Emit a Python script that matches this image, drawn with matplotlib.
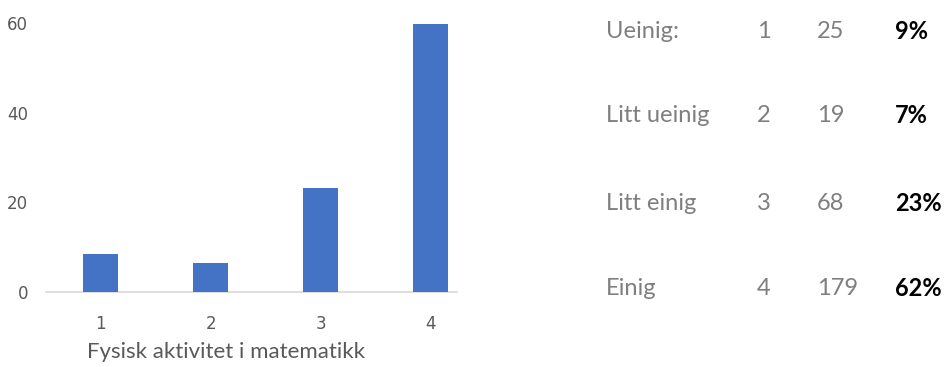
import matplotlib.pyplot as plt

# Svar på påstanden om fysisk aktivitet i matematikk
svar = ["Ueinig:", "Litt ueinig", "Litt einig", "Einig"]
skala = [1, 2, 3, 4]
antall = [25, 19, 68, 179]
prosent_tekst = ["9%", "7%", "23%", "62%"]

# søylehøyder (prosent)
soyler = [8.4, 6.4, 23.1, 59.9]
yticks = [0, 20, 40, 60]

blaa = "#4472C4"
graa = "#7f7f7f"

fig = plt.figure(figsize=(9.47, 3.67), dpi=100)
ax = fig.add_axes([46 / 947, 0.2052, 410.7 / 947, 0.7795])

ax.bar(skala, soyler, width=0.32, color=blaa, zorder=3)
ax.set_xlim(0.5, 4.24)
ax.set_ylim(0, 64)
ax.set_xticks(skala)
ax.set_yticks(yticks)
ax.tick_params(length=0, colors=graa)
ax.tick_params(axis="y", pad=13)
ax.tick_params(axis="x", pad=17)
for lab in ax.get_xticklabels() + ax.get_yticklabels():
    lab.set_fontfamily("Liberation Sans Narrow")
    lab.set_fontsize(12)
    lab.set_color("#595959")

for side in ["top", "right", "left"]:
    ax.spines[side].set_visible(False)
ax.spines["bottom"].set_color("#d9d9d9")
ax.spines["bottom"].set_linewidth(1.2)

# aksetittel under x-aksen
fig.text(225.8 / 947, 1 - 352 / 367, "Fysisk aktivitet i matematikk", fontsize=16,
         family="Lato", color="#595959", ha="center", va="center")

# tabellen til høyre
rad_y = [31.7, 115, 203.3, 288.3]
for i in range(len(svar)):
    y = 1 - rad_y[i] / 367
    fig.text(606 / 947, y, svar[i], fontsize=17, family="Lato", color=graa, va="center")
    fig.text(764 / 947, y, str(skala[i]), fontsize=17, family="Lato", color=graa,
             va="center", ha="center")
    fig.text(816.7 / 947, y, str(antall[i]), fontsize=17, family="Lato", color=graa,
             va="center")
    fig.text(895 / 947, y, prosent_tekst[i], fontsize=17, family="Lato", color="black",
             weight="bold", va="center")

fig.savefig("out.png", dpi=100)
